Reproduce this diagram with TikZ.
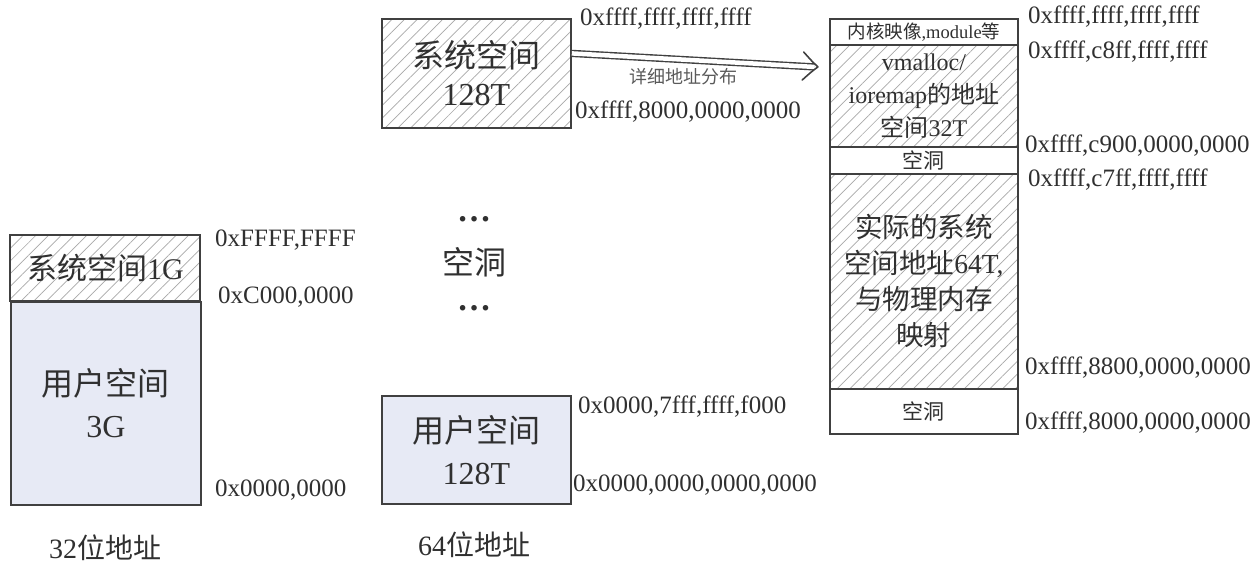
\documentclass[tikz,border=0pt]{standalone}
\usepackage{fontspec}
\setmainfont{Liberation Serif}
\newfontfamily\cjk{Noto Sans CJK SC}
\usetikzlibrary{patterns.meta,arrows.meta,calc}
\definecolor{edge}{HTML}{404040}
\definecolor{userfill}{HTML}{E7EAF5}
\definecolor{hatch}{HTML}{A8A8A8}
\definecolor{txt}{HTML}{303030}
\newcommand{\zh}[1]{{\cjk #1}}
\tikzset{
  seg/.style={draw=edge, line width=1.8pt, inner sep=0pt, anchor=north west, text=txt, align=center},
  hatched/.style={pattern={Lines[angle=45,distance=9pt,line width=0.7pt]}, pattern color=hatch},
  userbox/.style={fill=userfill},
  addr/.style={anchor=west, inner sep=0pt, font=\fontsize{25}{25}\selectfont, text=txt},
  caption/.style={font=\fontsize{28}{28}\selectfont, text=txt},
  plain/.style={text=txt},
  dblarrow/.style={draw=edge, double=white, double distance=4.5pt, line width=1.4pt},
  chevron/.style={draw=edge, line width=1.6pt, line join=round, line cap=round},
}
\begin{document}
\begin{tikzpicture}[x=1pt,y=-1pt]
\fill[white] (0,0) rectangle (1260,564);
\useasboundingbox (0,0) rectangle (1260,564);

% 32-bit
\node[seg,hatched,minimum width=190pt,minimum height=66pt,font=\fontsize{30}{30}\selectfont] (sys32) at (10,235) {\zh{系统空间}1G};
\node[seg,userbox,minimum width=190pt,minimum height=203pt,font=\fontsize{32}{42}\selectfont] (user32) at (10,301) {\zh{用户空间}\\3G};
\node[addr] (a32a) at (215,240) {0xFFFF,FFFF};
\node[addr] (a32b) at (218,297) {0xC000,0000};
\node[addr] (a32c) at (215,490) {0x0000,0000};
\node[caption] (c32) at (105,548) {32\zh{位地址}};

% 64-bit
\node[seg,hatched,minimum width=189pt,minimum height=109pt,font=\fontsize{32}{38}\selectfont] (sys64) at (381,18) {\zh{系统空间}\\128T};
\node[seg,userbox,minimum width=189pt,minimum height=108pt,font=\fontsize{32}{42}\selectfont] (user64) at (381,395) {\zh{用户空间}\\128T};
\node[plain,font=\bfseries\fontsize{34}{34}\selectfont,anchor=base] (dots1) at (474,222) {…};
\node[plain,font=\fontsize{32}{32}\selectfont] (hole) at (474,262) {\zh{空洞}};
\node[plain,font=\bfseries\fontsize{34}{34}\selectfont,anchor=base] (dots2) at (474,310) {…};
\node[addr] (a64a) at (580,19) {0xffff,ffff,ffff,ffff};
\node[addr] (a64b) at (575,112) {0xffff,8000,0000,0000};
\node[addr] (a64c) at (578,407) {0x0000,7fff,ffff,f000};
\node[addr] (a64d) at (573,485) {0x0000,0000,0000,0000};
\node[caption] (c64) at (474,545) {64\zh{位地址}};

% detailed kernel space
\node[seg,minimum width=188pt,minimum height=26pt,font=\fontsize{18.5}{18.5}\selectfont] (r1) at (829,18) {\zh{内核映像},module\zh{等}};
\node[seg,hatched,minimum width=188pt,minimum height=102pt,font=\fontsize{24}{33}\selectfont] (r2) at (829,44) {vmalloc/\\ioremap\zh{的地址}\\\zh{空间}32T};
\node[seg,minimum width=188pt,minimum height=27pt,font=\fontsize{21}{21}\selectfont] (r3) at (829,146) {\zh{空洞}};
\node[seg,hatched,minimum width=188pt,minimum height=215pt,font=\fontsize{27.5}{36}\selectfont] (r4) at (829,173) {\zh{实际的系统}\\\zh{空间地址}64T,\\\zh{与物理内存}\\\zh{映射}};
\node[seg,minimum width=188pt,minimum height=45pt,font=\fontsize{21}{21}\selectfont] (r5) at (829,388) {\zh{空洞}};
\node[addr] (ra) at (1028,17) {0xffff,ffff,ffff,ffff};
\node[addr] (rb) at (1028,52) {0xffff,c8ff,ffff,ffff};
\node[addr] (rc) at (1025,146) {0xffff,c900,0000,0000};
\node[addr] (rd) at (1028,180) {0xffff,c7ff,ffff,ffff};
\node[addr] (re) at (1025,368) {0xffff,8800,0000,0000};
\node[addr] (rf) at (1025,423) {0xffff,8000,0000,0000};

% arrow
\coordinate (arrTip) at ([xshift=-11pt,yshift=29pt]r2.west);
\draw[dblarrow] ([yshift=20pt]sys64.east) -- ([xshift=-4pt]arrTip);
\draw[chevron,rotate around={-3.2:(arrTip)}] ($(arrTip)+(-15,-14)$) .. controls ($(arrTip)+(-6,-5)$) .. (arrTip)
   .. controls ($(arrTip)+(-6,5)$) .. ($(arrTip)+(-15,14)$);
\node[text=txt!80,font=\fontsize{18}{18}\selectfont] (arrlbl) at (683,77) {\zh{详细地址分布}};
\end{tikzpicture}
\end{document}
